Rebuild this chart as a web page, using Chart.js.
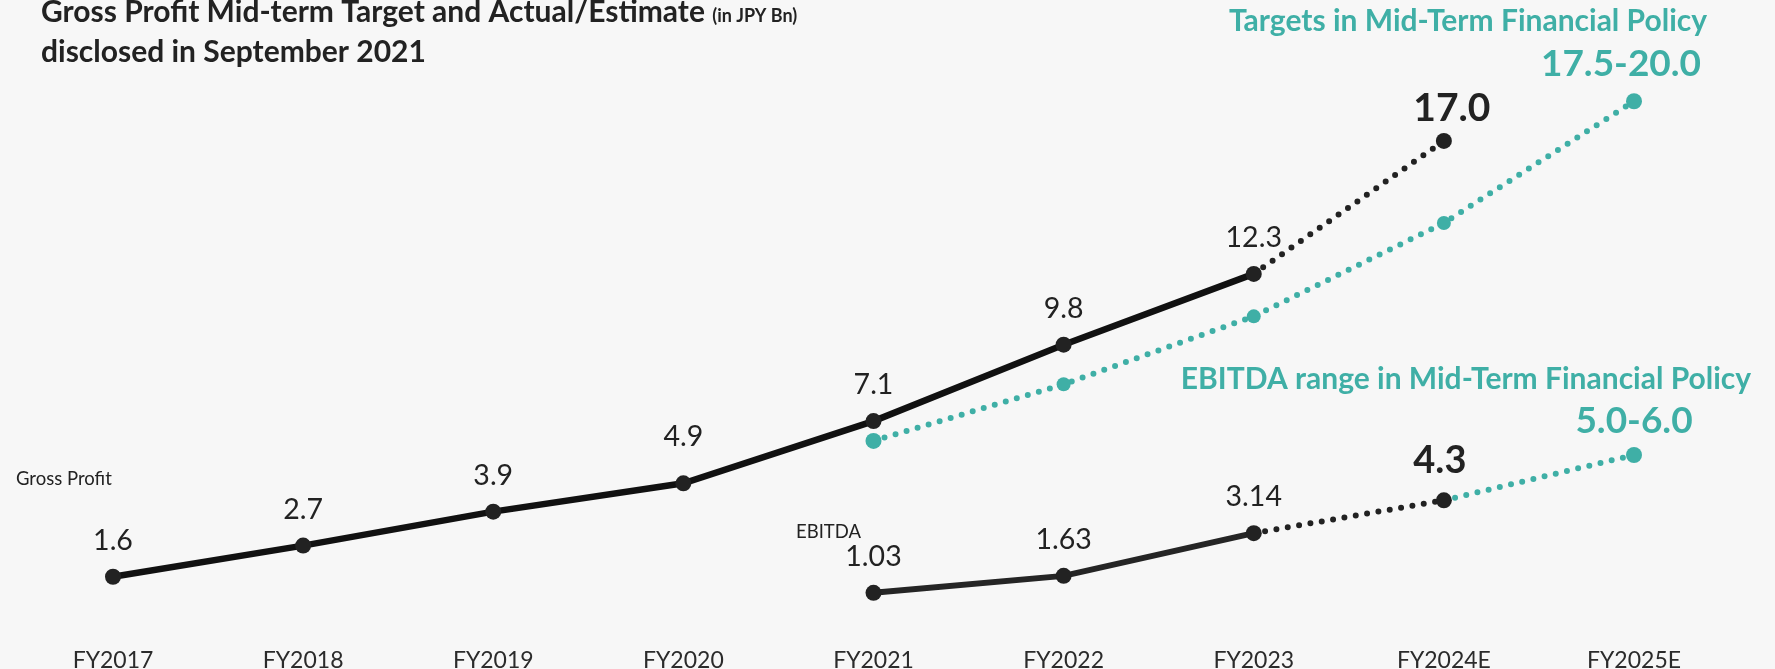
<!DOCTYPE html>
<html lang="en">
<head>
<meta charset="utf-8">
<title>Gross Profit Mid-term Target and Actual/Estimate</title>
<script src="https://cdn.jsdelivr.net/npm/chart.js"></script>
<style>
  body { margin: 0; background: #f7f7f7; }
  #wrap { width: 1775px; height: 669px; }
</style>
</head>
<body>
<div id="wrap"><canvas id="chart" width="1775" height="669"></canvas></div>
<script>
// data (JPY Bn)
const categories = ['FY2017', 'FY2018', 'FY2019', 'FY2020', 'FY2021', 'FY2022', 'FY2023', 'FY2024E', 'FY2025E'];
const grossProfit = [1.6, 2.7, 3.9, 4.9, 7.1, 9.8, 12.3, 17.0, null];
const grossProfitLabels = ['1.6', '2.7', '3.9', '4.9', '7.1', '9.8', '12.3', '17.0', ''];
const gpTarget = [null, null, null, null, 6.4, 8.4, 10.8, 14.1, 18.4];
const gpTargetLabels = ['', '', '', '', '', '', '', '', '17.5-20.0'];
const ebitda = [null, null, null, null, 1.03, 1.63, 3.14, 4.3, 5.9];
const ebitdaLabels = ['', '', '', '', '1.03', '1.63', '3.14', '4.3', '5.0-6.0'];
const yRange = [0, 20];

const TEAL = '#3fafa6';
const DARK = '#222222';
const FONT = 'Lato, "Open Sans", sans-serif';

// label tweaks: "datasetIndex-pointIndex" -> style
const labelStyles = {
  '0-3': { dy: 37 },
  '0-7': { size: 39, weight: 'bold', dy: 20, dx: 8 },
  '1-8': { size: 37, weight: 'bold', dy: 25, dx: -13, color: TEAL },
  '2-7': { size: 38, weight: 'bold', dy: 27, dx: -4 },
  '2-8': { size: 37, weight: 'bold', dy: 22, color: TEAL }
};

const valueLabels = {
  id: 'valueLabels',
  afterDatasetsDraw(chart) {
    const ctx = chart.ctx;
    ctx.save();
    ctx.textAlign = 'center';
    ctx.textBaseline = 'alphabetic';
    chart.data.datasets.forEach((ds, di) => {
      const meta = chart.getDatasetMeta(di);
      (ds.valueLabels || []).forEach((txt, i) => {
        if (!txt) return;
        const pt = meta.data[i];
        const st = Object.assign({ size: 28.5, weight: 'normal', dy: 27, dx: 0, color: DARK }, labelStyles[di + '-' + i]);
        ctx.font = st.weight + ' ' + st.size + 'px ' + FONT;
        ctx.fillStyle = st.color;
        ctx.fillText(txt, pt.x + st.dx, pt.y - st.dy);
      });
    });
    ctx.restore();
  }
};

const slideText = {
  id: 'slideText',
  afterDraw(chart) {
    const ctx = chart.ctx;
    ctx.save();
    ctx.textBaseline = 'alphabetic';
    ctx.textAlign = 'left';
    ctx.fillStyle = DARK;
    ctx.font = 'bold 30px ' + FONT;
    const t1 = 'Gross Profit Mid-term Target and Actual/Estimate ';
    ctx.fillText(t1, 41, 22);
    const w = ctx.measureText(t1).width;
    ctx.font = 'bold 18px ' + FONT;
    ctx.fillText('(in JPY Bn)', 41 + w, 22);
    ctx.font = 'bold 30px ' + FONT;
    ctx.fillText('disclosed in September 2021', 41, 62);

    ctx.font = 'normal 18.5px ' + FONT;
    ctx.fillText('Gross Profit', 16, 485);
    ctx.fillText('EBITDA', 796, 538);

    ctx.textAlign = 'center';
    ctx.fillStyle = TEAL;
    ctx.font = 'bold 30px ' + FONT;
    ctx.fillText('Targets in Mid-Term Financial Policy', 1468, 31);
    ctx.fillText('EBITDA range in Mid-Term Financial Policy', 1466, 389);
    ctx.restore();
  }
};

const dotted = [0, 11.5];

new Chart(document.getElementById('chart'), {
  type: 'line',
  data: {
    labels: categories,
    datasets: [
      {
        label: 'Gross Profit',
        data: grossProfit,
        valueLabels: grossProfitLabels,
        borderColor: '#111111',
        borderWidth: 6.5,
        borderCapStyle: 'round',
        pointRadius: 8,
        pointBorderWidth: 0,
        pointBackgroundColor: DARK,
        segment: {
          borderDash: c => c.p0DataIndex >= 6 ? dotted : undefined,
          borderColor: c => c.p0DataIndex >= 6 ? DARK : undefined,
          borderWidth: c => c.p0DataIndex >= 6 ? 6 : undefined
        },
        order: 1
      },
      {
        label: 'Gross Profit target',
        data: gpTarget,
        valueLabels: gpTargetLabels,
        borderColor: TEAL,
        borderWidth: 6,
        borderCapStyle: 'round',
        borderDash: dotted,
        pointRadius: [0, 0, 0, 0, 8, 7, 7, 7, 8],
        pointBorderWidth: 0,
        pointBackgroundColor: TEAL,
        order: 2
      },
      {
        label: 'EBITDA',
        data: ebitda,
        valueLabels: ebitdaLabels,
        borderColor: '#252525',
        borderWidth: 6,
        borderCapStyle: 'round',
        pointRadius: 8,
        pointBorderWidth: 0,
        pointBackgroundColor: [DARK, DARK, DARK, DARK, DARK, DARK, DARK, DARK, TEAL],
        segment: {
          borderDash: c => c.p0DataIndex >= 6 ? dotted : undefined,
          borderColor: c => c.p0DataIndex >= 7 ? TEAL : (c.p0DataIndex >= 6 ? DARK : undefined)
        },
        order: 0
      }
    ]
  },
  options: {
    responsive: false,
    animation: false,
    devicePixelRatio: 1,
    layout: { padding: { left: 113, right: 141, top: 56, bottom: 0 } },
    plugins: {
      legend: { display: false },
      tooltip: { enabled: false }
    },
    scales: {
      x: {
        offset: false,
        grid: { display: false, drawTicks: false },
        border: { display: false },
        afterFit: s => { s.height = 47; },
        ticks: {
          padding: 25,
          color: '#2b2b2b',
          font: { family: FONT, size: 23 },
          maxRotation: 0,
          autoSkip: false
        }
      },
      y: {
        display: false,
        min: yRange[0],
        max: yRange[1]
      }
    }
  },
  plugins: [valueLabels, slideText]
});
</script>
</body>
</html>
